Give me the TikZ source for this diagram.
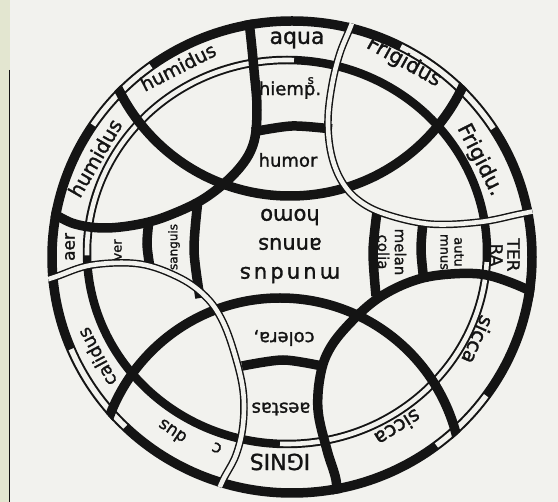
\documentclass[tikz,border=0pt]{standalone}
\usepackage{fontspec}
\setmainfont{DejaVu Sans}[FakeBold=1.4]
\definecolor{paperWhite}{HTML}{F2F2EE}
\definecolor{slideBeige}{HTML}{E3E6D0}
\definecolor{inkBlack}{HTML}{141414}

\begin{document}
\begin{tikzpicture}[x=1pt, y=-1pt,
  heavy/.style={draw=inkBlack, line width=9.5pt},
  hollow/.style={draw=inkBlack, line width=7.5pt},
  gap/.style={draw=paperWhite, line width=4.6pt},
  ringlabel/.style={inner sep=0pt, text=inkBlack, font=\fontsize{20}{20}\selectfont},
  innerlabel/.style={inner sep=0pt, text=inkBlack, align=center, font=\fontsize{18}{18}\selectfont},
]
\useasboundingbox (0,0) rectangle (558,502);
\fill[slideBeige] (0,0) rectangle (558,502);
\fill[paperWhite] (10,0) rectangle (558,502);
\draw[inkBlack, line width=1.2pt] (9.5,70) -- (9.5,502);

% outer and inner rings
\draw[heavy] (292,257) ellipse [x radius=240, y radius=236];
\foreach \a/\b in {-126/-146,-33/-63,53/36,157/134}
  \draw[gap, line width=5.4pt] (292,257) ++(\a:240 and 236) arc[start angle=\a, end angle=\b, x radius=240, y radius=236];
\draw[heavy, line width=8.5pt] (287,252) ellipse [x radius=200, y radius=192];
\foreach \a/\b in {-88/-181,92/3}
  \draw[gap] (287,252) ++(\a:200 and 192) arc[start angle=\a, end angle=\b, x radius=200, y radius=192];

\begin{scope}
\clip (292,257) ellipse [x radius=244.75, y radius=240.75];
% arcs of the four elements
\draw[heavy] (290,5) circle [radius=191];
\draw[heavy] (280,480) circle [radius=182];
\draw[heavy] plot[smooth, tension=0.6] coordinates {(247,8) (250,30) (254,70) (257,110) (253,145) (236,172) (205,198) (170,215) (140,224) (105,228) (75,224) (52,213) (35,205)};
\draw[heavy] plot[smooth, tension=0.6] coordinates {(337,505) (336,480) (327,450) (318,410) (321,372) (332,345) (355,318) (380,297) (410,282) (440,275) (480,274) (512,283) (545,298)};
% season and humour walls
\draw[heavy] plot[smooth] coordinates {(252,132) (292,126) (332,129)};
\draw[heavy] plot[smooth] coordinates {(149,220) (147,244) (150,268)};
\draw[heavy] plot[smooth] coordinates {(198,200) (194,250) (200,298)};
\draw[heavy] plot[smooth] coordinates {(377,212) (373,252) (376,296)};
\draw[heavy] plot[smooth] coordinates {(423,222) (421,250) (424,282)};
\draw[heavy] plot[smooth] coordinates {(242,366) (283,360) (322,366)};
% hollow arcs
\draw[hollow] plot[smooth, tension=0.6] coordinates {(358,0) (352,23) (340,53) (332,85) (328,120) (331,153) (341,180) (358,200) (385,214) (430,224) (480,222) (520,214) (550,208)};
\draw[gap] plot[smooth, tension=0.6] coordinates {(358,0) (352,23) (340,53) (332,85) (328,120) (331,153) (341,180) (358,200) (385,214) (430,224) (480,222) (520,214) (550,208)};
\draw[hollow] plot[smooth, tension=0.6] coordinates {(25,287) (55,277) (92,265) (140,264) (180,278) (206,297) (222,320) (234,352) (243,390) (243,425) (236,455) (223,480) (212,505)};
\draw[gap] plot[smooth, tension=0.6] coordinates {(25,287) (55,277) (92,265) (140,264) (180,278) (206,297) (222,320) (234,352) (243,390) (243,425) (236,455) (223,480) (212,505)};
\end{scope}

% ring words
\node[ringlabel, font=\fontsize{22}{22}\selectfont] (aqua) at (297,40) {aqua};
\node[ringlabel, font=\fontsize{21}{21}\selectfont, rotate=-29] (frigidA) at (404,62) {Frigidus};
\node[ringlabel, font=\fontsize{21}{21}\selectfont, rotate=-63] (frigidB) at (480,160) {Frigidu.};
\node[ringlabel, align=center, font=\fontsize{17}{17}\selectfont, rotate=-90] (terra) at (505,255) {TER\\RA};
\node[ringlabel, rotate=-114] (siccaA) at (478,340) {sicca};
\node[ringlabel, rotate=-148] (siccaB) at (398,428) {sicca};
\node[ringlabel, font=\fontsize{22}{22}\selectfont, rotate=180] (ignis) at (280,462) {IGNIS};
\node[ringlabel, font=\fontsize{17}{17}\selectfont, rotate=158] (calidA) at (217,448) {c};
\node[ringlabel, font=\fontsize{17}{17}\selectfont, rotate=146] (calidB) at (172,432) {dus};
\node[ringlabel, font=\fontsize{18}{18}\selectfont, rotate=118] (calidC) at (97,357) {calidus};
\node[ringlabel, font=\fontsize{17}{17}\selectfont, rotate=90] (aer) at (70,247) {aer};
\node[ringlabel, rotate=60] (humidA) at (95,158) {humidus};
\node[ringlabel, font=\fontsize{19}{19}\selectfont, rotate=27] (humidB) at (178,67) {humidus};

% seasons and humours
\node[innerlabel] (hiemps) at (290,88) {hiemp\llap{\raisebox{0.62em}{\fontsize{12}{12}\selectfont s}\kern1.5pt}.};
\node[innerlabel] (humor) at (288,160) {humor};
\node[innerlabel, font=\fontsize{15}{17}\selectfont, rotate=-90] (melan) at (392,252) {melan\\colia};
\node[innerlabel, font=\fontsize{13}{14}\selectfont, rotate=-90] (autumn) at (452,252) {autu\\mnus};
\node[innerlabel, rotate=180] (aestas) at (281,409) {aestas};
\node[innerlabel, rotate=180] (colera) at (284,338) {colera,};
\node[innerlabel, font=\fontsize{13}{13}\selectfont, rotate=90] (ver) at (118,250) {ver};
\node[innerlabel, font=\fontsize{12}{12}\selectfont, rotate=90] (sanguis) at (174,247) {sanguis};
\node[innerlabel, font=\fontsize{21}{29}\selectfont, rotate=180] (world) at (290,246) {{\addfontfeature{LetterSpace=15}mundus}\\annus\\homo};
\end{tikzpicture}
\end{document}
